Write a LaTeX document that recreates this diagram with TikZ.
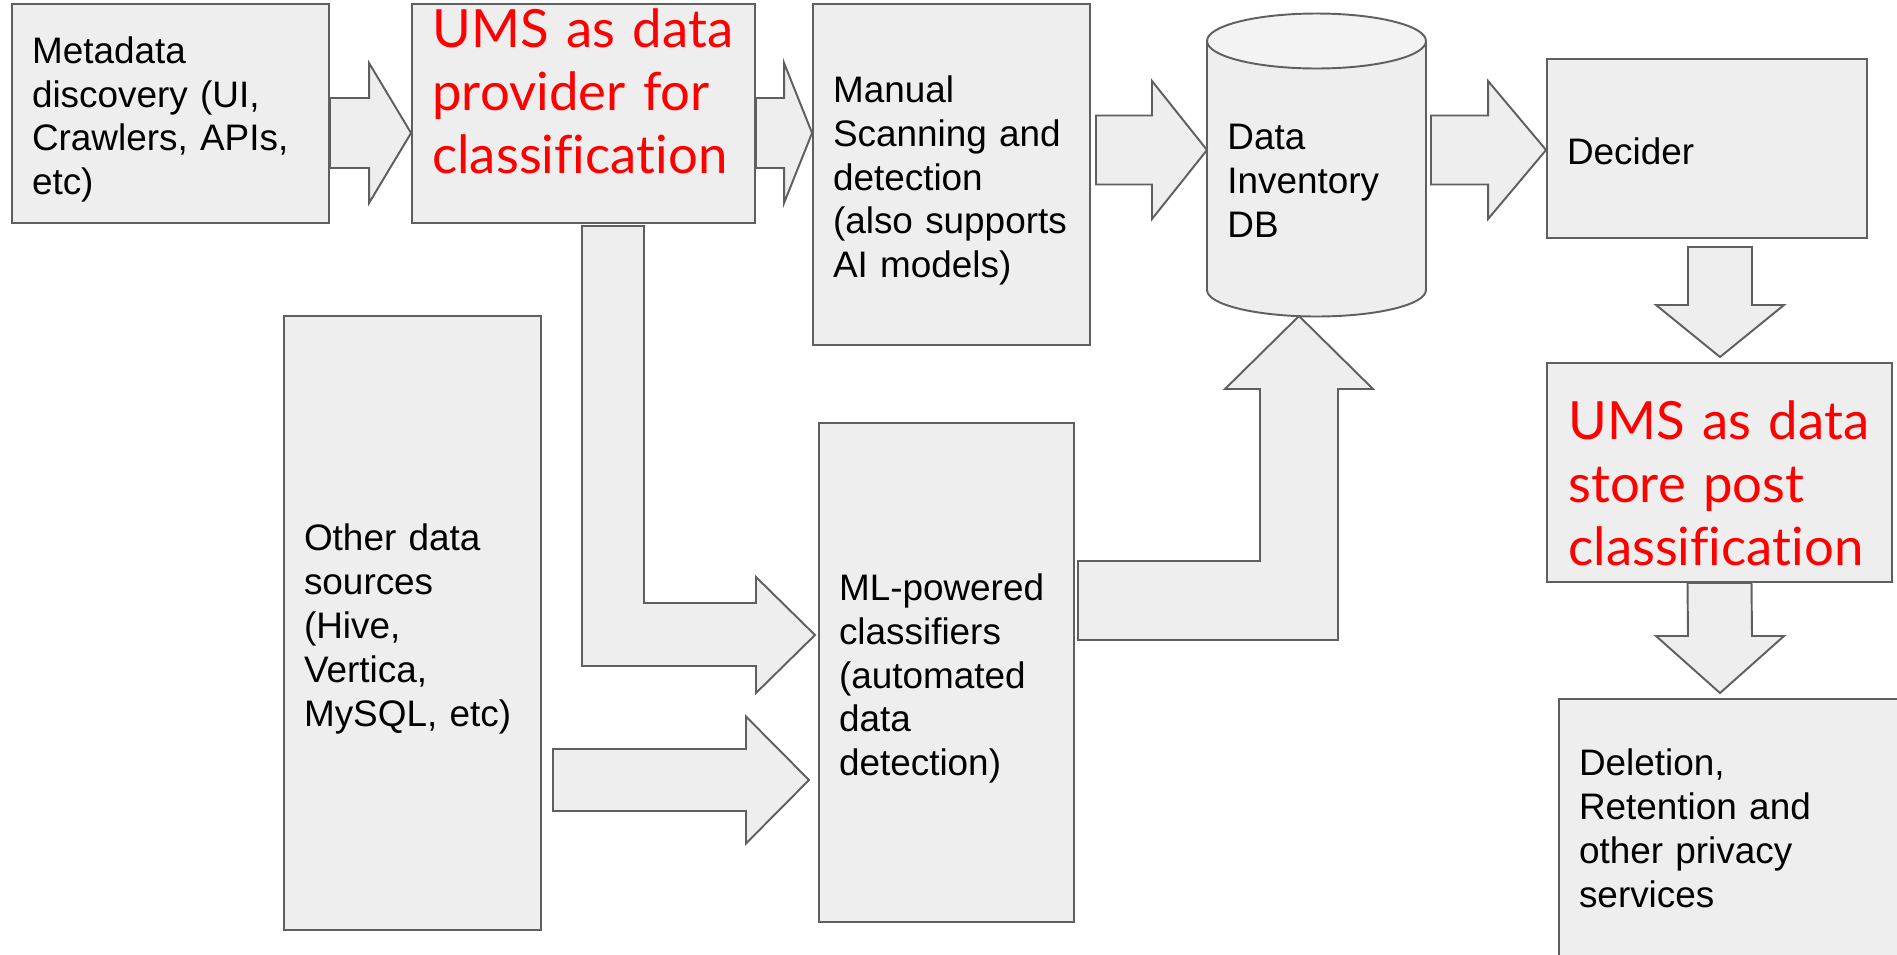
\documentclass[tikz,border=0pt]{standalone}
\usepackage{fontspec}
\setmainfont{Liberation Sans}
\newfontfamily\umsface[Ligatures=NoCommon]{Lato}
\usetikzlibrary{calc,positioning}

\definecolor{boxfill}{HTML}{EEEEEE}
\definecolor{topfill}{HTML}{F3F3F3}
\definecolor{boxline}{HTML}{5F5F5F}
\definecolor{umsred}{HTML}{FF0000}

\newcommand{\txtfont}{\fontsize{21pt}{25pt}\selectfont}
\newcommand{\redfont}{\umsface\fontsize{30pt}{36.1pt}\selectfont}

% block arrow pointing right: start, tip, shaft half, head half, head length
\newcommand{\rarrow}[5]{%
  \draw[blockarrow] ($(#1)+(0,-#3)$) -- ($(#2)+(-#5,-#3)$) -- ($(#2)+(-#5,-#4)$)
    -- (#2) -- ($(#2)+(-#5,#4)$) -- ($(#2)+(-#5,#3)$) -- ($(#1)+(0,#3)$) -- cycle;}
% block arrow pointing down
\newcommand{\darrow}[5]{%
  \draw[blockarrow] ($(#1)+(-#3,0)$) -- ($(#2)+(-#3,-#5)$) -- ($(#2)+(-#4,-#5)$)
    -- (#2) -- ($(#2)+(#4,-#5)$) -- ($(#2)+(#3,-#5)$) -- ($(#1)+(#3,0)$) -- cycle;}

\begin{document}
\begin{tikzpicture}[%
    x=0.02cm,
    y=-0.02cm,
    box/.style={draw=boxline, fill=boxfill, line width=1.1pt,
      inner xsep=0.4cm, inner ysep=0pt, align=left, font=\txtfont,
      text height=22pt},
    redtxt/.style={text=umsred, font=\redfont, align=left,
      text width=6.6cm, inner sep=0pt, anchor=base west},
    blockarrow/.style={draw=boxline, fill=boxfill, line width=1.1pt},
  ]
    \useasboundingbox (0,0) rectangle (1897,954);
    \clip (0,0) rectangle (1897,954);

    \node[box, minimum width=6.34cm, minimum height=4.38cm, text width=5.54cm]
      (meta) at (170.5,113.5) {Metadata\\discovery (UI,\\Crawlers, APIs,\\etc)};
    \node[box, minimum width=6.86cm, minimum height=4.38cm]
      (ums1) at (583.5,113.5) {};
    \node[box, minimum width=5.54cm, minimum height=6.82cm, text width=4.74cm]
      (manual) at (951.5,174.5) {Manual\\Scanning and\\detection\\(also supports\\AI models)};
    \node[box, minimum width=6.40cm, minimum height=3.58cm, text width=5.60cm,
      text height=18.5pt]
      (decider) at (1707,148.5) {Decider};
    \node[box, minimum width=6.90cm, minimum height=4.38cm]
      (ums2) at (1719.5,472.5) {};
    \node[box, minimum width=7.02cm, minimum height=5.42cm, text width=6.22cm,
      text height=8.3pt]
      (deletion) at (1734.5,834.5) {Deletion,\\Retention and\\other privacy\\services};
    \node[box, minimum width=5.14cm, minimum height=12.28cm, text width=4.34cm]
      (other) at (412.5,623) {Other data\\sources\\(Hive,\\Vertica,\\MySQL, etc)};
    \node[box, minimum width=5.10cm, minimum height=9.98cm, text width=4.30cm]
      (ml) at (946.5,672.5) {ML-powered\\classifiers\\(automated\\data\\detection)};

    \node[redtxt] (ums1txt) at (432,47) {UMS as data\\provider for\\classification};
    \node[redtxt] (ums2txt) at (1568,439) {UMS as data\\store post\\classification};

    % data inventory cylinder
    \filldraw[blockarrow] (1207,41) -- (1207,290)
      arc[start angle=180, end angle=360, x radius=2.19cm, y radius=0.53cm]
      -- (1426,41) -- cycle;
    \filldraw[blockarrow, fill=topfill] (1316.5,41) ellipse [x radius=2.19cm, y radius=0.55cm];
    \node[font=\txtfont, align=left, text width=4cm, inner sep=0pt, anchor=west]
      (db) at (1227,181) {Data\\Inventory\\DB};

    \rarrow{meta.east |- 0,133}{ums1.west |- 0,133}{35}{70}{42}
    \rarrow{ums1.east |- 0,133}{manual.west |- 0,133}{35}{70}{28}
    \rarrow{1096,150}{1207,150}{34.5}{69}{55}
    \rarrow{1431,150}{decider.west |- 0,150}{34.5}{69}{58}
    \rarrow{553,780}{809,780}{31}{63.5}{63}
    \darrow{1720,247}{1720,357}{32}{64}{52}
    \darrow{ums2.south}{1720,693}{32}{64}{57}

    \draw[blockarrow] (582,226) -- (644,226) -- (644,603) -- (756,603) -- (756,577)
      -- (815,635) -- (756,693) -- (756,666) -- (582,666) -- cycle;
    \draw[blockarrow] (1078,561) -- (1260,561) -- (1260,389) -- (1225,389)
      -- (1299,316) -- (1373,389) -- (1338,389) -- (1338,640) -- (1078,640) -- cycle;
  \end{tikzpicture}
\end{document}
